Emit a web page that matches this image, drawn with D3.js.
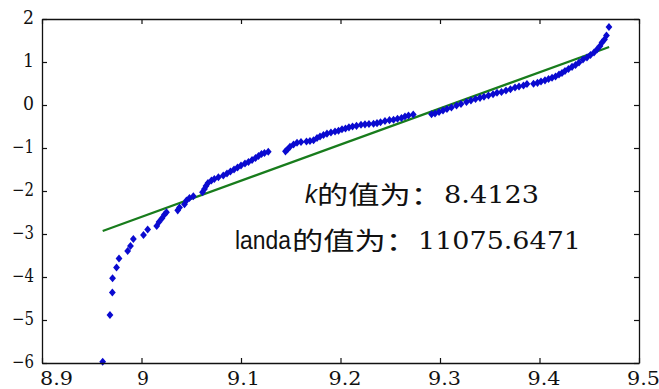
<!DOCTYPE html>
<html>
<head>
<meta charset="utf-8">
<script src="https://cdn.jsdelivr.net/npm/d3@7"></script>
<style>
  body { margin: 0; background: #fff; }
  svg { display: block; }
  .serif { font-family: "DejaVu Serif", "Liberation Serif", serif; }
  .sans { font-family: "Liberation Sans", "DejaVu Sans", sans-serif; }
  .cjk { font-family: "Noto Sans CJK SC", sans-serif; }
</style>
</head>
<body>
<script>
//ln(t) of each sample
var lnT = [8.9610, 8.9683, 8.9707, 8.9709, 8.9749, 8.9774, 8.9861, 8.9889, 8.9918, 9.0020,
    9.0062, 9.0153, 9.0176, 9.0206, 9.0231, 9.0251, 9.0364, 9.0382, 9.0432, 9.0452,
    9.0482, 9.0521, 9.0613, 9.0633, 9.0648, 9.0668, 9.0703, 9.0732, 9.0773, 9.0822,
    9.0859, 9.0894, 9.0930, 9.0965, 9.1000, 9.1040, 9.1075, 9.1111, 9.1146, 9.1176,
    9.1206, 9.1236, 9.1274, 9.1447, 9.1467, 9.1492, 9.1528, 9.1563, 9.1603, 9.1658,
    9.1693, 9.1729, 9.1764, 9.1794, 9.1829, 9.1864, 9.1904, 9.1945, 9.1980, 9.2015,
    9.2050, 9.2085, 9.2121, 9.2161, 9.2206, 9.2246, 9.2286, 9.2332, 9.2367, 9.2402,
    9.2447, 9.2492, 9.2533, 9.2573, 9.2613, 9.2648, 9.2683, 9.2731, 9.2915, 9.2950,
    9.2990, 9.3030, 9.3070, 9.3115, 9.3166, 9.3211, 9.3266, 9.3311, 9.3357, 9.3402,
    9.3442, 9.3487, 9.3533, 9.3573, 9.3618, 9.3663, 9.3708, 9.3754, 9.3794, 9.3839,
    9.3874, 9.3940, 9.3980, 9.4015, 9.4055, 9.4091, 9.4126, 9.4161, 9.4196, 9.4226,
    9.4256, 9.4291, 9.4327, 9.4362, 9.4397, 9.4437, 9.4477, 9.4512, 9.4548, 9.4578,
    9.4608, 9.4628, 9.4653, 9.4673, 9.4698];

//ln(-ln(1-F)) for each sample
var lnLnF = [-5.970, -4.884, -4.360, -4.030, -3.779, -3.570, -3.395, -3.279, -3.116, -3.023,
    -2.895, -2.814, -2.721, -2.635, -2.547, -2.495, -2.449, -2.384, -2.307, -2.221,
    -2.163, -2.123, -2.030, -1.953, -1.884, -1.814, -1.756, -1.721, -1.681, -1.640,
    -1.593, -1.547, -1.500, -1.453, -1.407, -1.360, -1.326, -1.279, -1.233, -1.186,
    -1.140, -1.116, -1.086, -1.077, -1.035, -0.970, -0.919, -0.877, -0.860, -0.849,
    -0.837, -0.821, -0.767, -0.733, -0.698, -0.667, -0.640, -0.616, -0.600, -0.565,
    -0.547, -0.519, -0.500, -0.484, -0.460, -0.449, -0.442, -0.437, -0.423, -0.402,
    -0.372, -0.353, -0.344, -0.321, -0.302, -0.267, -0.244, -0.221, -0.214, -0.198,
    -0.163, -0.128, -0.093, -0.058, -0.012, 0.023, 0.070, 0.105, 0.140, 0.167,
    0.191, 0.221, 0.249, 0.284, 0.302, 0.337, 0.367, 0.407, 0.430, 0.453,
    0.488, 0.493, 0.516, 0.547, 0.574, 0.605, 0.633, 0.663, 0.709, 0.744,
    0.791, 0.837, 0.888, 0.930, 0.988, 1.058, 1.105, 1.163, 1.221, 1.291,
    1.372, 1.453, 1.523, 1.616, 1.814];

//fitted line end points
var fitX = [8.961, 9.470];
var fitY = [-2.93, 1.35];

//axis ticks
var xTicks = [8.9, 9.0, 9.1, 9.2, 9.3, 9.4, 9.5];
var xTickLabels = ["8.9", "9", "9.1", "9.2", "9.3", "9.4", "9.5"];
var yTicks = [-6, -5, -4, -3, -2, -1, 0, 1, 2];
var yTickLabels = ["\u22126", "\u22125", "\u22124", "\u22123", "\u22122", "\u22121", "0", "1", "2"];

//annotation text
var kName = "k", landaName = "landa", valueWord = "的值为：";
var kValue = "8.4123", landaValue = "11075.6471";

window.onload = drawChart();

function drawChart(){

    //frame size
    var width = 659,
        height = 389;
    var margin = {top: 19, right: 20, bottom: 26, left: 42};

    var svg = d3.select("body")
        .append("svg")
        .attr("width", width)
        .attr("height", height);

    var x = d3.scaleLinear()
        .domain([8.9, 9.5])
        .range([margin.left, width - margin.right]);

    var y = d3.scaleLinear()
        .domain([-6, 2])
        .range([height - margin.bottom, margin.top]);

    var points = lnT.map(function(d, i){ return [d, lnLnF[i]]; });

    //fitted line
    svg.append("path")
        .datum(fitX.map(function(d, i){ return [d, fitY[i]]; }))
        .attr("fill", "none")
        .attr("stroke", "#187c1c")
        .attr("stroke-width", 2.2)
        .attr("d", d3.line().x(function(d){ return x(d[0]); }).y(function(d){ return y(d[1]); }));

    //sample points, rotated squares
    var diamond = d3.symbol().type(d3.symbolSquare).size(23);
    svg.selectAll(".pt")
        .data(points)
        .enter()
        .append("path")
        .attr("class", "pt")
        .attr("transform", function(d){ return "translate(" + x(d[0]) + "," + y(d[1]) + ") scale(1,1.2) rotate(45)"; })
        .attr("d", diamond)
        .attr("fill", "#0a0ad0");

    //axes, ticks pointing inward on all four sides
    var tickLen = 5;
    var bottom = svg.append("g")
        .attr("transform", "translate(0," + (height - margin.bottom) + ")")
        .call(d3.axisBottom(x).tickValues(xTicks).tickSizeInner(-tickLen).tickSizeOuter(0)
            .tickFormat(function(d, i){ return xTickLabels[i]; }));
    var top = svg.append("g")
        .attr("transform", "translate(0," + margin.top + ")")
        .call(d3.axisTop(x).tickValues(xTicks).tickSizeInner(-tickLen).tickSizeOuter(0).tickFormat(""));
    var left = svg.append("g")
        .attr("transform", "translate(" + margin.left + ",0)")
        .call(d3.axisLeft(y).tickValues(yTicks).tickSizeInner(-tickLen).tickSizeOuter(0)
            .tickFormat(function(d, i){ return yTickLabels[i]; }));
    var right = svg.append("g")
        .attr("transform", "translate(" + (width - margin.right) + ",0)")
        .call(d3.axisRight(y).tickValues(yTicks).tickSizeInner(-tickLen).tickSizeOuter(0).tickFormat(""));

    [bottom, top, left, right].forEach(function(g){
        g.attr("font-family", null).attr("font-size", null);
        g.select(".domain").attr("stroke", "#111").attr("stroke-width", 1.3);
        g.selectAll(".tick line").attr("stroke", "#111").attr("stroke-width", 1.2);
    });
    top.selectAll(".tick text").remove();
    right.selectAll(".tick text").remove();

    //label nudges as in the source picture (first label sits right of the corner)
    var xLabelShift = [14, 1, 2, 4, 4, 4, 4];
    bottom.selectAll(".tick text")
        .attr("class", "serif")
        .attr("x", function(d, i){ return xLabelShift[i]; })
        .attr("y", 22)
        .attr("dy", null)
        .attr("fill", "#111")
        .attr("font-size", 18)
        .attr("textLength", function(d, i){ return xTickLabels[i].length > 1 ? 33 : 12; })
        .attr("lengthAdjust", "spacingAndGlyphs");

    left.selectAll(".tick text")
        .attr("class", "serif")
        .attr("x", -8)
        .attr("dy", "0.25em")
        .attr("fill", "#111")
        .attr("font-size", 18)
        .attr("textLength", function(d, i){ return yTickLabels[i].length > 1 ? 22 : 11; })
        .attr("lengthAdjust", "spacingAndGlyphs");

    //annotation, one piece per font
    var notes = svg.append("g").attr("fill", "#111");

    notes.append("text").attr("class", "sans").attr("x", 305).attr("y", 203)
        .attr("font-style", "italic")
        .attr("font-size", 25)
        .attr("textLength", 12).attr("lengthAdjust", "spacingAndGlyphs")
        .text(kName);
    notes.append("text").attr("class", "cjk").attr("x", 317).attr("y", 204)
        .attr("font-size", 25)
        .attr("textLength", 125).attr("lengthAdjust", "spacingAndGlyphs")
        .text(valueWord);
    notes.append("text").attr("class", "serif").attr("x", 444).attr("y", 203)
        .attr("font-size", 25)
        .attr("textLength", 95).attr("lengthAdjust", "spacingAndGlyphs")
        .text(kValue);

    notes.append("text").attr("class", "sans").attr("x", 235).attr("y", 249)
        .attr("font-size", 25)
        .attr("textLength", 56).attr("lengthAdjust", "spacingAndGlyphs")
        .text(landaName);
    notes.append("text").attr("class", "cjk").attr("x", 292).attr("y", 250)
        .attr("font-size", 25)
        .attr("textLength", 125).attr("lengthAdjust", "spacingAndGlyphs")
        .text(valueWord);
    notes.append("text").attr("class", "serif").attr("x", 418).attr("y", 249)
        .attr("font-size", 25)
        .attr("textLength", 163).attr("lengthAdjust", "spacingAndGlyphs")
        .text(landaValue);
};
</script>
</body>
</html>
